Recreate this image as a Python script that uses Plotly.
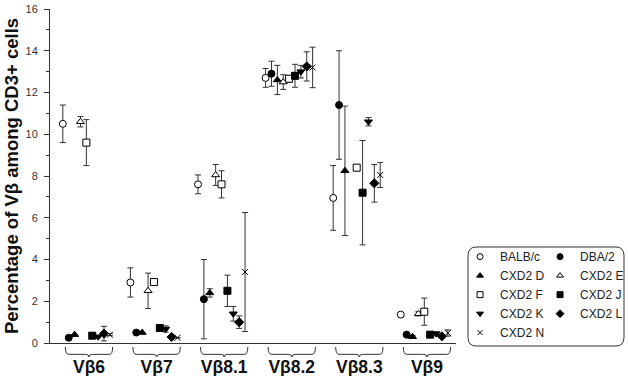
import plotly.graph_objects as go

groups = ["Vβ6", "Vβ7", "Vβ8.1", "Vβ8.2", "Vβ8.3", "Vβ9"]
strains = ["BALB/c", "DBA/2", "CXD2 D", "CXD2 E", "CXD2 F", "CXD2 J", "CXD2 K", "CXD2 L", "CXD2 N"]

balbc = [10.5, 2.9, 7.6, 12.7, 6.95, 1.36]
dba2 = [0.25, 0.5, 2.1, 12.9, 11.4, 0.4]
cxd2_d = [0.4, 0.5, 2.4, 12.6, 8.25, 0.3]
cxd2_e = [10.6, 2.5, 8.05, 12.5, None, 1.4]
cxd2_f = [9.6, 2.92, 7.6, 12.66, 8.4, 1.5]
cxd2_j = [0.35, 0.72, 2.5, 12.8, 7.2, 0.4]
cxd2_k = [0.3, 0.67, 1.4, 13.0, 10.6, 0.45]
cxd2_l = [0.45, 0.29, 1.0, 13.25, 7.65, 0.32]
cxd2_n = [0.4, 0.25, 3.4, 13.2, 8.05, 0.48]

err_balbc = [0.9, 0.7, 0.45, 0.45, 1.55, 0.0]
err_dba2 = [0.05, 0.0, 1.9, 0.6, 2.6, 0.05]
err_d = [0.0, 0.0, 0.2, 0.7, 3.1, 0.05]
err_e = [0.25, 0.85, 0.5, 0.35, 0.0, 0.1]
err_f = [1.1, 0.0, 0.65, 0.15, 0.15, 0.65]
err_j = [0.0, 0.0, 0.75, 0.55, 2.5, 0.05]
err_k = [0.05, 0.15, 0.35, 0.3, 0.2, 0.05]
err_l = [0.35, 0.05, 0.3, 0.7, 0.9, 0.05]
err_n = [0.05, 0.0, 2.85, 0.97, 0.6, 0.15]

values = [balbc, dba2, cxd2_d, cxd2_e, cxd2_f, cxd2_j, cxd2_k, cxd2_l, cxd2_n]
errors = [err_balbc, err_dba2, err_d, err_e, err_f, err_j, err_k, err_l, err_n]

# marker styles: (symbol, fill, size)
styles = [
    ("circle", "white", 7),
    ("circle", "black", 7),
    ("triangle-up", "black", 7),
    ("triangle-up", "white", 7),
    ("square", "white", 7),
    ("square", "black", 7),
    ("triangle-down", "black", 7),
    ("diamond", "black", 7),
    ("x-thin", "black", 6),
]

FONT = "Arial, 'Liberation Sans', sans-serif"
step = 0.087
fig = go.Figure()

for i, (name, vals, errs) in enumerate(zip(strains, values, errors)):
    sym, fill, size = styles[i]
    xs = [g + (i - 4.45) * step for g in range(len(groups))]
    marker = dict(symbol=sym, size=size, color=fill, line=dict(color="black", width=1))
    fig.add_trace(go.Scatter(
        x=xs, y=vals, mode="markers", name=name, showlegend=False,
        marker=marker,
        error_y=dict(type="data", array=errs, visible=True, color="#333", thickness=1, width=3),
        cliponaxis=False,
    ))

# legend entries (two columns)
for i, name in enumerate(strains):
    sym, fill, size = styles[i]
    leg = "legend" if i % 2 == 0 else "legend2"
    fig.add_trace(go.Scatter(
        x=[None], y=[None], mode="markers", name=name, legend=leg,
        marker=dict(symbol=sym, size=6 if sym != "x-thin" else 5, color=fill,
                    line=dict(color="black", width=1)),
    ))

# braces under each group
shapes = []
hw = 0.35
for g in range(len(groups)):
    x0, x1 = g - hw, g + hw
    d = 0.05
    yt, yb, yd = -0.012, -0.034, -0.042
    path = (f"M {x0},{yt} Q {x0},{yb} {x0 + d},{yb} L {g - d},{yb} "
            f"Q {g},{yb} {g},{yd} Q {g},{yb} {g + d},{yb} L {x1 - d},{yb} "
            f"Q {x1},{yb} {x1},{yt}")
    shapes.append(dict(type="path", path=path, xref="x", yref="paper",
                       line=dict(color="#333", width=1)))

# rounded legend box
lx0, lx1, ly0, ly1 = 1.0296, 1.4138, -0.009, 0.2874
rx, ry = 0.02, 0.026
box = (f"M {lx0 + rx},{ly1} L {lx1 - rx},{ly1} Q {lx1},{ly1} {lx1},{ly1 - ry} "
       f"L {lx1},{ly0 + ry} Q {lx1},{ly0} {lx1 - rx},{ly0} L {lx0 + rx},{ly0} "
       f"Q {lx0},{ly0} {lx0},{ly0 + ry} L {lx0},{ly1 - ry} Q {lx0},{ly1} {lx0 + rx},{ly1} Z")
shapes.append(dict(type="path", path=box, xref="paper", yref="paper",
                   line=dict(color="#333", width=1)))

legend_common = dict(font=dict(family=FONT, size=12, color="#222"), bgcolor="rgba(0,0,0,0)",
                     borderwidth=0, yanchor="top", xanchor="left", tracegroupgap=0,
                     itemsizing="trace")

fig.update_layout(
    width=628, height=376,
    margin=dict(l=50, r=172, t=9, b=33, autoexpand=False),
    paper_bgcolor="white", plot_bgcolor="white",
    font=dict(family=FONT, color="#222"),
    shapes=shapes,
    legend=dict(x=1.010, y=0.302, **legend_common),
    legend2=dict(x=1.207, y=0.302, **legend_common),
    xaxis=dict(
        range=[-0.577, 5.43], tickvals=list(range(len(groups))), ticktext=groups,
        showline=True, linecolor="#333", linewidth=1, showgrid=False, zeroline=False,
        ticks="", ticklabelstandoff=8,
        tickfont=dict(family=FONT, size=17.5, color="#111", weight="bold"),
    ),
    yaxis=dict(
        range=[0, 16], tickvals=[0, 2, 4, 6, 8, 10, 12, 14, 16],
        showline=True, linecolor="#333", linewidth=1, showgrid=False, zeroline=False,
        ticks="outside", ticklen=5, tickcolor="#333", ticklabelstandoff=4,
        minor=dict(dtick=1, ticks="outside", ticklen=3, tickcolor="#333"),
        tickfont=dict(family=FONT, size=11, color="#333"),
        title=dict(text="Percentage of Vβ among CD3+ cells", standoff=2,
                   font=dict(family=FONT, size=18.5, color="#111", weight="bold")),
    ),
)

fig.write_html("out.html", config={"displayModeBar": False},
               post_script="document.body.style.margin='0';")
